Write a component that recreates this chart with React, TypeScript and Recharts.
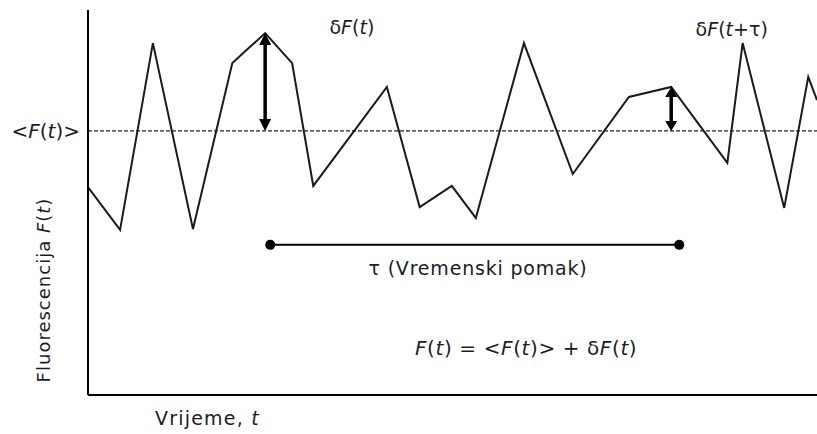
import {
  LineChart,
  Line,
  XAxis,
  YAxis,
  ReferenceLine,
  ReferenceDot,
  Label,
} from "recharts";

// time samples (arbitrary units) and fluorescence
const time = [0, 4.4, 8.9, 14.4, 19.8, 24.3, 28.0, 30.9, 41.0, 45.5, 49.9, 53.2, 59.8, 66.5, 74.2, 80.0, 87.7, 89.8, 95.5, 98.8, 100];
const fluorescence = [54.0, 42.9, 91.4, 43.1, 86.2, 94.0, 86.2, 54.3, 80.0, 48.8, 54.3, 46.0, 91.4, 57.4, 77.4, 80.0, 60.3, 91.4, 48.6, 82.6, 76.6];

const meanF = 68.6;
const arrowTimes = [24.3, 80.0];
const arrowPeaks = [94.0, 80.0];
const lagBar = [25.0, 81.1];
const lagLevel = 39.0;

const data = time.map((t, i) => ({ t, F: fluorescence[i] }));

const FONT = "DejaVu Sans";
const INK = "#1c1c24";

const DoubleArrow = (props: any) => {
  const { x1, y1, y2 } = props;
  const top = Math.min(y1, y2);
  const bottom = Math.max(y1, y2);
  const head = bottom - top > 60 ? 12 : 10;
  const half = 6;
  return (
    <g>
      <line x1={x1} y1={top + head - 2} x2={x1} y2={bottom - head + 2} stroke="#000" strokeWidth={3.5} />
      <polygon points={`${x1},${top} ${x1 - half},${top + head} ${x1 + half},${top + head}`} fill="#000" />
      <polygon points={`${x1},${bottom} ${x1 - half},${bottom - head} ${x1 + half},${bottom - head}`} fill="#000" />
    </g>
  );
};

const it = (s: string) => <tspan fontStyle="italic">{s}</tspan>;

const textAt = (node: any, size = 17, spacing = 0) => (props: any) => {
  const { viewBox } = props;
  return (
    <text
      x={viewBox.x + (viewBox.width || 0) / 2}
      y={viewBox.y + (viewBox.height || 0) / 2}
      textAnchor="middle"
      dominantBaseline="central"
      fontFamily={FONT}
      fontSize={size}
      letterSpacing={spacing}
      fill={INK}
    >
      {node}
    </text>
  );
};

const App = () => {
  return (
    <div style={{ position: "absolute", left: 0, top: 0, background: "#fff" }}>
      <LineChart width={817} height={434} data={data} margin={{ top: 10, right: 0, bottom: 0, left: 0 }}>
        <XAxis
          type="number"
          dataKey="t"
          domain={[0, 100]}
          tick={false}
          tickLine={false}
          height={39}
          axisLine={{ stroke: "#000", strokeWidth: 2 }}
        >
          <Label
            content={(p: any) => (
              <text
                x={p.viewBox.x + 67}
                y={p.viewBox.y + 30}
                fontFamily={FONT}
                fontSize={19}
                letterSpacing={1.2}
                fill={INK}
              >
                Vrijeme, {it("t")}
              </text>
            )}
          />
        </XAxis>
        <YAxis
          type="number"
          domain={[0, 100]}
          tick={false}
          tickLine={false}
          width={88}
          axisLine={{ stroke: "#000", strokeWidth: 2 }}
        >
          <Label
            content={() => (
              <text
                x={43}
                y={290}
                transform="rotate(-90, 43, 290)"
                textAnchor="middle"
                dominantBaseline="central"
                fontFamily={FONT}
                fontSize={18}
                letterSpacing={1}
                fill={INK}
              >
                Fluorescencija {it("F")}({it("t")})
              </text>
            )}
          />
        </YAxis>

        <ReferenceLine
          y={meanF}
          stroke="#222"
          strokeWidth={1.2}
          strokeDasharray="4 2"
          label={(p: any) => (
            <text
              x={p.viewBox.x - 8}
              y={p.viewBox.y}
              textAnchor="end"
              dominantBaseline="central"
              fontFamily={FONT}
              fontSize={20}
              fill={INK}
            >
              &lt;{it("F")}({it("t")})&gt;
            </text>
          )}
        />

        <Line
          type="linear"
          dataKey="F"
          stroke="#1a1a1a"
          strokeWidth={2}
          dot={false}
          isAnimationActive={false}
        />

        {arrowTimes.map((t, i) => (
          <ReferenceLine
            key={`arrow-${i}`}
            segment={[
              { x: t, y: meanF },
              { x: t, y: arrowPeaks[i] },
            ]}
            shape={(p: any) => <DoubleArrow {...p} />}
          />
        ))}

        <ReferenceLine
          segment={[
            { x: lagBar[0], y: lagLevel },
            { x: lagBar[1], y: lagLevel },
          ]}
          stroke="#000"
          strokeWidth={2}
        />
        {lagBar.map((t, i) => (
          <ReferenceDot key={`lag-${i}`} x={t} y={lagLevel} r={5} fill="#000" stroke="none" />
        ))}

        <ReferenceDot x={53.5} y={33.0} r={0} stroke="none" fill="none">
          <Label content={textAt(<>τ (Vremenski pomak)</>, 19, 0.8)} />
        </ReferenceDot>
        <ReferenceDot x={36.2} y={95.6} r={0} stroke="none" fill="none">
          <Label content={textAt(<>δ{it("F")}({it("t")})</>, 19)} />
        </ReferenceDot>
        <ReferenceDot x={88.3} y={95.1} r={0} stroke="none" fill="none">
          <Label content={textAt(<>δ{it("F")}({it("t")}+τ)</>, 19)} />
        </ReferenceDot>
        <ReferenceDot x={60.1} y={12.2} r={0} stroke="none" fill="none">
          <Label
            content={textAt(
              <>{it("F")}({it("t")}) = &lt;{it("F")}({it("t")})&gt; + δ{it("F")}({it("t")})</>,
              20,
              0.6
            )}
          />
        </ReferenceDot>
      </LineChart>
    </div>
  );
};

export default App;
